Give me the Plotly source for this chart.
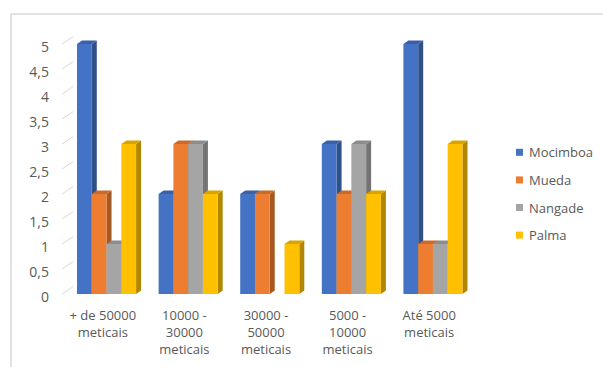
import plotly.graph_objects as go

# Faixas de rendimento e número de respostas por distrito
categorias = ["+ de 50000<br>meticais", "10000 -<br>30000<br>meticais", "30000 -<br>50000<br>meticais",
              "5000 -<br>10000<br>meticais", "Até 5000<br>meticais"]
series = ["Mocimboa", "Mueda", "Nangade", "Palma"]
mocimboa = [5, 2, 2, 3, 5]
mueda = [2, 3, 2, 2, 1]
nangade = [1, 3, 0, 3, 1]
palma = [3, 2, 1, 2, 3]
valores = [mocimboa, mueda, nangade, palma]
y_ticks = [0, 0.5, 1, 1.5, 2, 2.5, 3, 3.5, 4, 4.5, 5]

cor_frente = ["#4472C4", "#ED7D31", "#A5A5A5", "#FFC000"]
cor_lado = ["#2F5089", "#A65822", "#747474", "#B38600"]
cor_topo = ["#3A61A7", "#C96A2A", "#8C8C8C", "#D9A300"]

FONT = "Open Sans"
TXT = "#595959"
GRID = "#D9D9D9"

# geometria (px) da área de desenho
W, H = 603, 367
ML, MR, MT, MB = 62, 122, 30, 73
PW, PH = W - ML - MR, H - MT - MB          # 419 x 264
FRONT_W = 408                                # largura do plano frontal
DEPTH_X, DEPTH_Y = 11, 7.3                   # profundidade da parede de fundo
PX_UNIT = 50                                 # px por unidade no eixo y
PX_CAT = FRONT_W / len(categorias)

bar_w = 0.181
bar_off0 = -0.316
dx = 5 / PX_CAT
dy = 3.5 / PX_UNIT

fig = go.Figure()

for i, (nome, vals) in enumerate(zip(series, valores)):
    fig.add_trace(go.Bar(
        x=categorias, y=vals, name=nome, xaxis="x2", yaxis="y2",
        width=bar_w, offset=bar_off0 + i * bar_w,
        marker=dict(color=cor_frente[i], line=dict(width=0)),
        showlegend=False, hoverinfo="x+y+name",
    ))

shapes = []
# faces laterais e superiores (efeito 3D)
for c in range(len(categorias)):
    for i in range(len(series)):
        v = valores[i][c]
        if v <= 0:
            continue
        xl = c + bar_off0 + i * bar_w
        xr = xl + bar_w
        shapes.append(dict(type="path", xref="x2", yref="y2", layer="below",
                           path=f"M{xr},0 L{xr+dx},{dy} L{xr+dx},{v+dy} L{xr},{v} Z",
                           fillcolor=cor_lado[i], line=dict(width=0)))
        shapes.append(dict(type="path", xref="x2", yref="y2", layer="below",
                           path=f"M{xl},{v} L{xl+dx},{v+dy} L{xr+dx},{v+dy} L{xr},{v} Z",
                           fillcolor=cor_topo[i], line=dict(width=0)))

# linhas de profundidade na parede lateral esquerda
def py(pix):
    return (H - MB - pix) / PH

def px(pix):
    return (pix - ML) / PW

for t in y_ticks:
    shapes.append(dict(type="line", xref="paper", yref="paper", layer="below",
                       x0=0, y0=t * PX_UNIT / PH,
                       x1=DEPTH_X / PW, y1=(DEPTH_Y + t * PX_UNIT) / PH,
                       line=dict(color=GRID, width=1)))

# moldura da área do gráfico
shapes.append(dict(type="line", xref="paper", yref="paper", x0=px(11), y0=py(14), x1=px(W + 5), y1=py(14),
                   line=dict(color=GRID, width=1.5)))
shapes.append(dict(type="line", xref="paper", yref="paper", x0=px(11), y0=py(14), x1=px(11), y1=py(H + 5),
                   line=dict(color=GRID, width=1.5)))

# legenda
annotations = []
leg_y0, leg_step = 152.3, 27.6
for i, nome in enumerate(series):
    yc = leg_y0 + i * leg_step
    shapes.append(dict(type="rect", xref="paper", yref="paper",
                       x0=px(516), x1=px(523), y0=py(yc - 3.5), y1=py(yc + 3.5),
                       fillcolor=cor_frente[i], line=dict(width=0)))
    annotations.append(dict(xref="paper", yref="paper", x=px(527), y=py(yc),
                            xanchor="left", yanchor="middle", showarrow=False, text=nome,
                            font=dict(family=FONT, size=13, color=TXT)))

fig.update_layout(
    width=W, height=H,
    margin=dict(l=ML, r=MR, t=MT, b=MB, pad=0, autoexpand=False),
    paper_bgcolor="white", plot_bgcolor="rgba(0,0,0,0)",
    separators=", ",
    barmode="overlay",
    font=dict(family=FONT, size=13, color=TXT),
    # parede de fundo com as linhas de grade
    xaxis=dict(domain=[DEPTH_X / PW, 1], range=[-0.5, 4.5], showgrid=False, zeroline=False,
               showline=False, showticklabels=False, ticks="", anchor="y", fixedrange=True,
               automargin=False),
    yaxis=dict(domain=[DEPTH_Y / PH, (DEPTH_Y + 5 * PX_UNIT) / PH], range=[0, 5],
               tickmode="array", tickvals=y_ticks, showgrid=True, gridcolor=GRID, gridwidth=1,
               zeroline=False, showline=False, showticklabels=False, ticks="", anchor="x", fixedrange=True,
               automargin=False),
    # plano frontal com as barras
    xaxis2=dict(domain=[0, FRONT_W / PW], range=[-0.5, 4.5], type="category",
                categoryorder="array", categoryarray=categorias,
                showgrid=False, zeroline=False, showline=False, ticks="", anchor="y2",
                tickfont=dict(family=FONT, size=13, color=TXT), ticklabelstandoff=12,
                fixedrange=True, automargin=False),
    yaxis2=dict(domain=[0, 1], range=[0, PH / PX_UNIT], tickmode="array", tickvals=y_ticks,
                showgrid=False, zeroline=False, showline=False, ticks="", anchor="x2",
                tickfont=dict(family=FONT, size=14, color=TXT), ticklabelstandoff=12,
                ticklabelshift=3, fixedrange=True, automargin=False),
    shapes=shapes,
    annotations=annotations,
)

fig.write_html("out.html")
